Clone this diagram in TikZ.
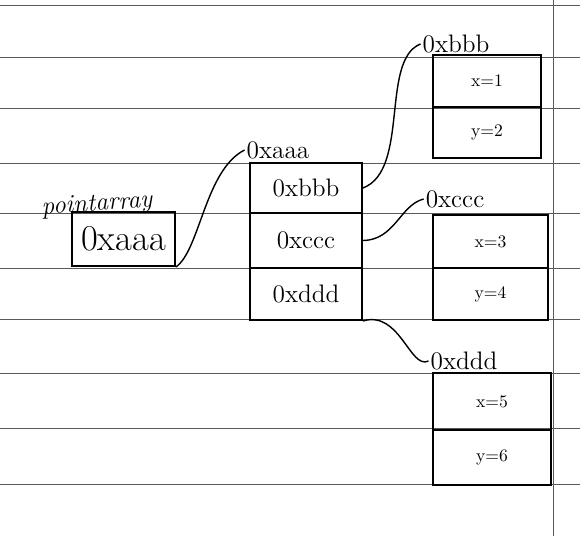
\documentclass[tikz,border=0pt]{standalone}
\usetikzlibrary{positioning}
\tikzset{
  rule/.style={draw=black!65, line width=0.5pt},
  cell/.style={draw, line width=1.1pt, rectangle, inner sep=0pt, font=\Large},
  small cell/.style={cell, font=\normalsize},
  addr/.style={font=\Large, inner sep=1pt},
  link/.style={line width=0.8pt}
}
\begin{document}
\begin{tikzpicture}[x=0.02cm, y=-0.02cm]
        \useasboundingbox (0,0) rectangle (580,536);
        % Paper rules
        \foreach \y in {5,57,108,163,213,268,319,373,428,484}
            \draw[rule] (0,\y) -- (580,\y);
        \draw[rule] (553,0) -- (553,536);

        % pointer variable
        \node[cell, minimum width=2.06cm, minimum height=1.08cm, font=\huge] (ptr) at (123.5,239) {0xaaa};
        \node[addr, rotate=4, font=\Large\itshape] (ptrname) at (97,205) {pointarray};

        % Array of pointers
        \node[cell, minimum width=2.24cm, minimum height=1.0cm] (cellb) at (306,188) {0xbbb};
        \node[cell, minimum width=2.24cm, minimum height=1.1cm] (cellc) at (306,240.5) {0xccc};
        \node[cell, minimum width=2.24cm, minimum height=1.04cm] (celld) at (306,294) {0xddd};
        \node[addr] (lblaaa) at (278,150) {0xaaa};

        % Point structs
        \node[small cell, minimum width=2.16cm, minimum height=1.04cm] (bx) at (487,81) {x=1};
        \node[small cell, minimum width=2.16cm, minimum height=1.02cm] (by) at (487,132.5) {y=2};
        \node[addr] (lblbbb) at (456,44) {0xbbb};

        \node[small cell, minimum width=2.3cm, minimum height=1.06cm] (cx) at (490.5,241.5) {x=3};
        \node[small cell, minimum width=2.3cm, minimum height=1.04cm] (cy) at (490.5,294) {y=4};
        \node[addr] (lblccc) at (455,199) {0xccc};

        \node[small cell, minimum width=2.36cm, minimum height=1.14cm] (dx) at (492,401.5) {x=5};
        \node[small cell, minimum width=2.36cm, minimum height=1.1cm] (dy) at (492,457.5) {y=6};
        \node[addr] (lblddd) at (464,361) {0xddd};

        % Links
        \draw[link] (ptr.south east) .. controls (200,250) and (205,170) .. (lblaaa.west);
        \draw[link] (cellb.east) .. controls (410,170) and (380,60) .. (lblbbb.west);
        \draw[link] (cellc.east) .. controls (395,240) and (400,205) .. (lblccc.west);
        \draw[link] (celld.south east) .. controls (400,310) and (410,370) .. (lblddd.west);
\end{tikzpicture}
\end{document}
